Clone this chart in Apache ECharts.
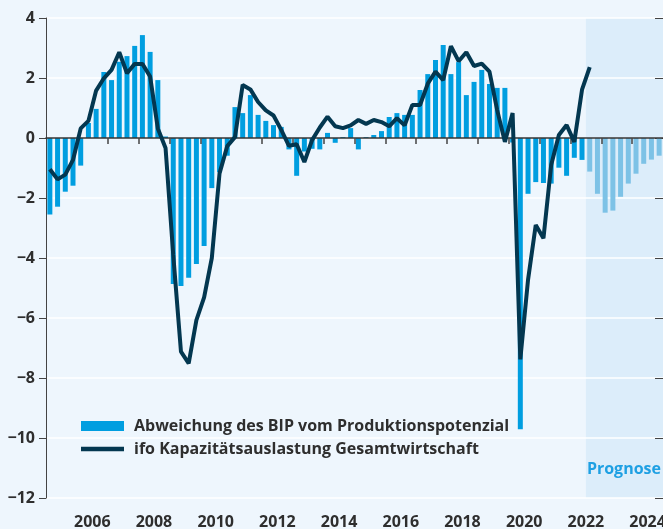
<!DOCTYPE html>
<html>
<head>
<meta charset="utf-8">
<script src="https://cdn.jsdelivr.net/npm/echarts@6/dist/echarts.min.js"></script>
<style>
  html, body { margin: 0; padding: 0; background: #eef6fd; }
  #chart { width: 663px; height: 529px; }
</style>
</head>
<body>
<div id="chart"></div>
<script>
// quarters 2005Q1 .. 2024Q4
const quarters = [];
for (let y = 2005; y <= 2024; y++) {
  for (let q = 1; q <= 4; q++) quarters.push(y + 'Q' + q);
}

// Abweichung des BIP vom Produktionspotenzial (in %)
const outputGap = [
  -2.55, -2.29, -1.79, -1.59,   // 2005
  -0.92, 0.50, 0.97, 2.20,      // 2006
  1.93, 2.54, 2.73, 3.07,       // 2007
  3.43, 2.87, 1.93, 0.05,       // 2008
  -4.87, -4.93, -4.66, -4.20,   // 2009
  -3.60, -1.67, -1.14, -0.59,   // 2010
  1.03, 0.83, 1.43, 0.77,       // 2011
  0.57, 0.43, 0.37, -0.38,      // 2012
  -1.26, -0.45, -0.36, -0.38,   // 2013
  0.17, -0.16, 0.03, 0.33,      // 2014
  -0.38, 0.03, 0.10, 0.23,      // 2015
  0.70, 0.83, 0.77, 0.77,       // 2016
  1.60, 2.13, 2.60, 3.10,       // 2017
  2.13, 2.53, 1.43, 1.87,       // 2018
  2.27, 1.80, 1.67, 1.67,       // 2019
  -0.15, -9.71, -1.86, -1.47,   // 2020
  -1.50, -1.52, -0.99, -1.26,   // 2021
  -0.66, -0.73, -1.12, -1.86,   // 2022
  -2.49, -2.42, -1.96, -1.52,   // 2023
  -1.19, -0.86, -0.72, -0.59    // 2024
];

// ifo Kapazitätsauslastung Gesamtwirtschaft (normiert)
const capacityUtil = [
  -1.04, -1.38, -1.22, -0.73,   // 2005
  0.32, 0.57, 1.58, 1.99,       // 2006
  2.27, 2.86, 2.16, 2.47,       // 2007
  2.47, 2.05, 0.32, -0.33,      // 2008
  -3.90, -7.12, -7.51, -6.07,   // 2009
  -5.31, -4.00, -1.18, -0.27,   // 2010
  0.03, 1.77, 1.62, 1.20,       // 2011
  0.92, 0.75, 0.27, -0.26,      // 2012
  -0.21, -0.80, -0.07, 0.35,    // 2013
  0.71, 0.39, 0.33, 0.42,       // 2014
  0.60, 0.47, 0.60, 0.53,       // 2015
  0.39, 0.66, 0.42, 1.10,       // 2016
  1.10, 1.81, 2.21, 1.93,       // 2017
  3.06, 2.56, 2.86, 2.40,       // 2018
  2.48, 2.21, 0.93, -0.13,      // 2019
  0.83, -7.38, -4.73, -2.90,    // 2020
  -3.34, -0.90, 0.10, 0.43,     // 2021
  -0.13, 1.61, 2.36             // 2022
];

const forecastFrom = '2022Q3';
const yearTicks = [2006, 2007, 2008, 2009, 2010, 2011, 2012, 2013, 2014, 2015,
  2016, 2017, 2018, 2019, 2020, 2021, 2022, 2023, 2024];
const yearLabels = [2006, 2008, 2010, 2012, 2014, 2016, 2018, 2020, 2022, 2024];

const BAR = '#009ee0';
const BAR_FORECAST = '#7dc2e6';
const LINE = '#033750';
const TEXT = '#2e2e2e';
const FONT = '"Open Sans", "Noto Sans", sans-serif';

const qStart = (s) => Number(s.slice(0, 4)) + (Number(s.slice(5)) - 1) / 4;
const qMid = (s) => qStart(s) + 0.125;
const forecastIdx = quarters.indexOf(forecastFrom);

const chart = echarts.init(document.getElementById('chart'));

const baseX = { type: 'value', min: 2005, max: 2025, splitLine: { show: false } };

chart.setOption({
  backgroundColor: '#eef6fd',
  animation: false,
  textStyle: { fontFamily: FONT },
  grid: { left: 46, right: 0, top: 18, bottom: 31, containLabel: false, outerBoundsMode: 'none' },
  legend: {
    orient: 'vertical',
    left: 81,
    top: 418,
    padding: 0,
    itemWidth: 43,
    itemHeight: 10,
    itemGap: 7,
    textStyle: { fontFamily: FONT, fontSize: 16, fontWeight: 'bold', color: TEXT, padding: [0, 0, 0, 5] },
    data: [
      { name: 'Abweichung des BIP vom Produktionspotenzial', icon: 'rect' },
      { name: 'ifo Kapazitätsauslastung Gesamtwirtschaft', icon: 'path://M0,0H43V4.5H0Z' }
    ]
  },
  xAxis: [
    {
      ...baseX,
      z: 3,
      axisLine: { onZero: true, lineStyle: { color: '#333', width: 1.5 } },
      axisTick: { show: true, inside: false, length: 6, customValues: yearTicks, lineStyle: { color: '#444', width: 1.5 } },
      axisLabel: { show: false }
    },
    {
      ...baseX,
      z: 3,
      axisLine: { show: false, onZero: true },
      axisTick: { show: true, inside: true, length: 6, customValues: yearTicks, lineStyle: { color: '#444', width: 1.5 } },
      axisLabel: { show: false }
    },
    {
      ...baseX,
      position: 'bottom',
      axisLine: { show: false, onZero: false },
      axisTick: { show: false },
      axisLabel: {
        show: true,
        customValues: yearLabels.map((y) => y + 0.5),
        formatter: (v) => String(Math.floor(v)),
        margin: 16,
        fontFamily: FONT,
        fontSize: 16,
        fontWeight: 'bold',
        color: TEXT
      }
    }
  ],
  yAxis: [
    {
      type: 'value',
      min: -12,
      max: 4,
      interval: 2,
      z: 1.5,
      axisLine: { show: true, lineStyle: { color: '#444', width: 1 } },
      axisTick: { show: true, inside: false, length: 7, lineStyle: { color: '#444', width: 1 } },
      axisLabel: {
        margin: 11,
        fontFamily: FONT,
        fontSize: 16,
        fontWeight: 'bold',
        color: TEXT,
        formatter: (v) => (v < 0 ? '\u2212' + Math.abs(v) : String(v))
      },
      splitLine: { show: true, lineStyle: { color: '#ffffff', width: 1.5 } }
    },
    {
      type: 'value',
      min: -12,
      max: 4,
      interval: 2,
      z: 1.5,
      axisLine: { show: false },
      axisTick: { show: true, inside: true, length: 8, lineStyle: { color: '#444', width: 1 } },
      axisLabel: { show: false },
      splitLine: { show: false }
    }
  ],
  series: [
    {
      name: 'Abweichung des BIP vom Produktionspotenzial',
      type: 'bar',
      barWidth: 5,
      itemStyle: { color: BAR },
      data: quarters.map((q, i) => ({
        value: [qMid(q), outputGap[i]],
        itemStyle: i >= forecastIdx ? { color: BAR_FORECAST } : undefined
      })),
      markArea: {
        silent: true,
        z: 1,
        itemStyle: { color: '#dcedfa' },
        label: {
          show: true,
          position: 'insideBottomLeft',
          distance: 0,
          offset: [1, -21],
          formatter: 'Prognose',
          fontFamily: FONT,
          fontSize: 16,
          fontWeight: 700,
          color: '#1ea0e3'
        },
        data: [[{ xAxis: qStart(forecastFrom), yAxis: 4 }, { xAxis: 2025, yAxis: -12 }]]
      }
    },
    {
      name: 'ifo Kapazitätsauslastung Gesamtwirtschaft',
      type: 'line',
      z: 4,
      symbol: 'none',
      lineStyle: { color: LINE, width: 4 },
      itemStyle: { color: LINE },
      data: capacityUtil.map((v, i) => [qMid(quarters[i]), v])
    }
  ]
});
</script>
</body>
</html>
